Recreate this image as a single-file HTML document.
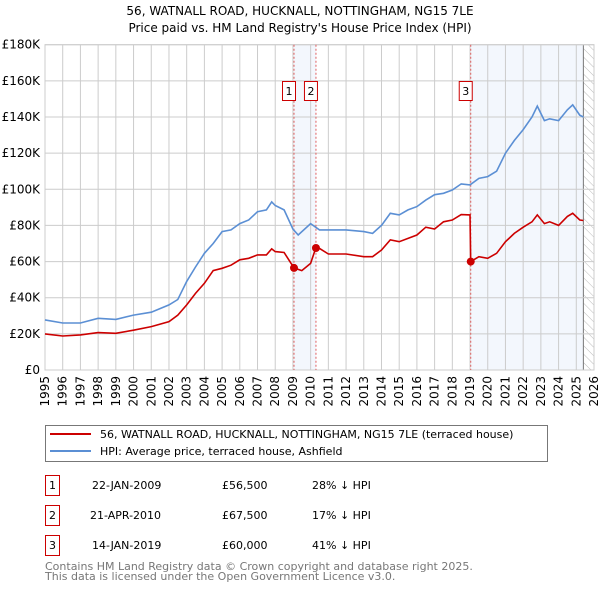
<!DOCTYPE html>
<html><head><meta charset="utf-8">
<style>
body{margin:0;background:#fff;font-family:"DejaVu Sans","Liberation Sans",sans-serif;}
</style></head>
<body>
<svg id="chart" width="600" height="590" xmlns="http://www.w3.org/2000/svg" font-family="DejaVu Sans, Liberation Sans, sans-serif">
<text x="300" y="15" text-anchor="middle" font-size="12">56, WATNALL ROAD, HUCKNALL, NOTTINGHAM, NG15 7LE</text>
<text x="300" y="32" text-anchor="middle" font-size="12">Price paid vs. HM Land Registry's House Price Index (HPI)</text>
<defs><pattern id="hatch" width="6" height="6" patternUnits="userSpaceOnUse" patternTransform="rotate(-45)"><line x1="0" y1="0" x2="0" y2="6" stroke="#bbb" stroke-width="1"/></pattern></defs>
<g id="bg"></g><g id="grid"></g><g id="marks"></g><g id="axes"></g>
<rect x="45.5" y="425.5" width="502" height="36" fill="#fff" stroke="#777"/>
<line x1="50" y1="434" x2="91" y2="434" stroke="#cc0000" stroke-width="2"/>
<text x="100" y="438" font-size="11">56, WATNALL ROAD, HUCKNALL, NOTTINGHAM, NG15 7LE (terraced house)</text>
<line x1="50" y1="451" x2="91" y2="451" stroke="#5b8fd4" stroke-width="2"/>
<text x="100" y="455" font-size="11">HPI: Average price, terraced house, Ashfield</text>
<g font-size="11">
<rect x="45.5" y="475.5" width="14" height="20" fill="#fff" stroke="#cc0000"/><text x="52.5" y="489" text-anchor="middle">1</text>
<text x="92" y="489">22-JAN-2009</text><text x="222" y="489">£56,500</text><text x="312" y="489">28% ↓ HPI</text>
<rect x="45.5" y="505.5" width="14" height="20" fill="#fff" stroke="#cc0000"/><text x="52.5" y="519" text-anchor="middle">2</text>
<text x="90" y="519">21-APR-2010</text><text x="222" y="519">£67,500</text><text x="312" y="519">17% ↓ HPI</text>
<rect x="45.5" y="535.5" width="14" height="20" fill="#fff" stroke="#cc0000"/><text x="52.5" y="549" text-anchor="middle">3</text>
<text x="92" y="549">14-JAN-2019</text><text x="222" y="549">£60,000</text><text x="312" y="549">41% ↓ HPI</text>
</g>
<text x="45" y="570" font-size="11" fill="#777">Contains HM Land Registry data © Crown copyright and database right 2025.</text>
<text x="45" y="580" font-size="11" fill="#777">This data is licensed under the Open Government Licence v3.0.</text>
</svg>
<script>
const yearTicks=[1995,1996,1997,1998,1999,2000,2001,2002,2003,2004,2005,2006,2007,2008,2009,2010,2011,2012,2013,2014,2015,2016,2017,2018,2019,2020,2021,2022,2023,2024,2025,2026];
const priceTicks=[0,20,40,60,80,100,120,140,160,180];
const hpiYears=[1995,1996,1997,1998,1999,2000,2001,2002,2002.5,2003,2003.5,2004,2004.5,2005,2005.5,2006,2006.5,2007,2007.5,2007.8,2008,2008.5,2009,2009.3,2010,2010.5,2011,2012,2013,2013.5,2014,2014.5,2015,2015.5,2016,2016.5,2017,2017.5,2018,2018.5,2019,2019.5,2020,2020.5,2021,2021.5,2022,2022.5,2022.8,2023.2,2023.5,2024,2024.5,2024.8,2025.2,2025.4];
const hpiValues=[27.7,26,26,28.6,28,30.4,32,36,39,49,57,64.6,70,76.6,77.5,81,83,87.6,88.6,93,91,88.6,78,74.7,81,77.5,77.5,77.5,76.6,75.6,80,86.7,85.8,88.6,90.4,94,97,97.8,99.6,103,102.4,106,107,110,120,127,133,140,146,138,139,138,144,146.7,141,140];
const priceYears=[1995,1996,1997,1998,1999,2000,2001,2002,2002.5,2003,2003.5,2004,2004.5,2005,2005.5,2006,2006.5,2007,2007.5,2007.8,2008,2008.5,2009.06,2009.5,2010,2010.29,2010.5,2011,2012,2013,2013.5,2014,2014.5,2015,2016,2016.5,2017,2017.5,2018,2018.5,2019.0,2019.04,2019.5,2020,2020.5,2021,2021.5,2022,2022.5,2022.8,2023.2,2023.5,2024,2024.5,2024.8,2025.2,2025.4];
const priceValues=[20,18.8,19.4,20.7,20.3,22,24,26.8,30.4,36,42.4,48,55,56.3,58,61,61.8,63.7,63.7,67,65.5,65,56.5,55,59,67.5,67.3,64.2,64.2,62.7,62.7,66.4,72,71,74.7,79,78,82,83,86,85.8,60,62.7,61.8,64.6,71,75.6,79,82,85.8,81,82,80,85,86.7,83,82.7];
const saleLabels=["1","2","3"];
const saleYears=[2009.06,2010.3,2019.04];
const saleValues=[56.5,67.5,60];
const hatchStart=2025.4;

const X0=45,X1=594,Y0=370,Y1=44.7;
const xs=y=>X0+(y-1995)/(2026-1995)*(X1-X0);
const ys=v=>Y0-v/180*(Y0-Y1);
const NS="http://www.w3.org/2000/svg";
function mk(g,tag,at){const e=document.createElementNS(NS,tag);for(const k in at)e.setAttribute(k,at[k]);document.getElementById(g).appendChild(e);return e;}

let r=mk('bg','rect',{x:xs(saleYears[0]),y:Y1,width:xs(saleYears[1])-xs(saleYears[0]),height:Y0-Y1,fill:'#eef3fc',opacity:0.7});


r=mk('bg','rect',{x:xs(saleYears[2]),y:Y1,width:xs(hatchStart)-xs(saleYears[2]),height:Y0-Y1,fill:'#eef3fc',opacity:0.7});


r=mk('bg','rect',{x:xs(hatchStart),y:Y1,width:X1-xs(hatchStart),height:Y0-Y1,fill:'url(#hatch)'});


mk('bg','line',{x1:xs(hatchStart),x2:xs(hatchStart),y1:Y1,y2:Y0,stroke:'#777'});

yearTicks.forEach(t=>{
 const l=mk('grid','line',{x1:xs(t),x2:xs(t),y1:Y1,y2:Y0,stroke:'#ccc'});
 
 
 const tx=mk('axes','text',{x:0,y:0,transform:`translate(${xs(t)+4},${Y0+6}) rotate(-90)`,'text-anchor':'end','font-size':'12'});
 tx.textContent=t;
 
 
});
priceTicks.forEach(t=>{
 const l=mk('grid','line',{x1:X0,x2:X1,y1:ys(t),y2:ys(t),stroke:'#ccc'});
 
 
 const tx=mk('axes','text',{x:40,y:ys(t)+4,'text-anchor':'end','font-size':'12'});
 tx.textContent=t===0?'£0':'£'+t+'K';
 
 
});
mk('grid','rect',{x:X0,y:Y1,width:X1-X0,height:Y0-Y1,fill:'none',stroke:'#ccc'});

saleYears.forEach((s,i)=>{
 const l=mk('marks','line',{x1:xs(s),x2:xs(s),y1:Y1,y2:Y0,stroke:'#e06060','stroke-dasharray':'2,2'});
 
 
});
function path(xa,va,col,name){
 const d=xa.map((x,i)=>(i?'L':'M')+xs(x).toFixed(1)+','+ys(va[i]).toFixed(1)).join('');
 const p=mk('marks','path',{d:d,fill:'none',stroke:col,'stroke-width':1.6});
 
 
}
path(hpiYears,hpiValues,'#5b8fd4','hpi-line');
path(priceYears,priceValues,'#cc0000','price-paid-line');
saleYears.forEach((s,i)=>{
 const c=mk('marks','circle',{cx:xs(s),cy:ys(saleValues[i]),r:4,fill:'#cc0000'});
 
 
 const b=mk('marks','rect',{x:xs(s)-11.5,y:81.5,width:13,height:19,fill:'#fff',stroke:'#cc0000'});
 
 
 const t=mk('marks','text',{x:xs(s)-5,y:95,'text-anchor':'middle','font-size':'11'});
 t.textContent=saleLabels[i];
 
 
});
</script>
</body></html>
